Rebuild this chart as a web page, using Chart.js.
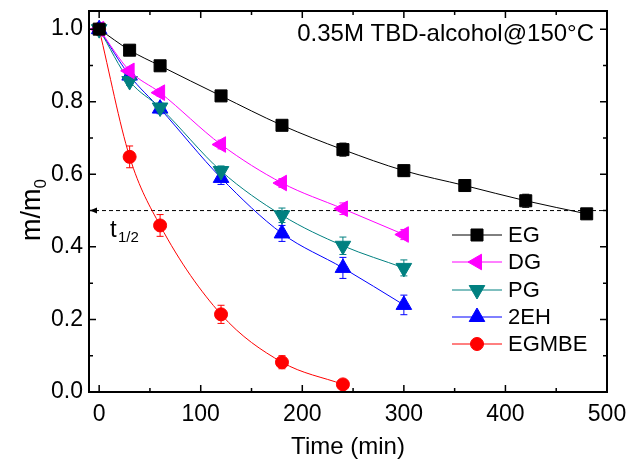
<!DOCTYPE html>
<html>
<head>
<meta charset="utf-8">
<script src="https://cdn.jsdelivr.net/npm/chart.js@4/dist/chart.umd.min.js"></script>
<style>
  html, body { margin: 0; padding: 0; background: #fff; }
  #wrap { width: 632px; height: 468px; }
</style>
</head>
<body>
<div id="wrap"><canvas id="massChart" width="632" height="468"></canvas></div>
<script>
// sampling times (min)
const timesLong = [0, 30, 60, 120, 180, 240, 300, 360, 420, 480];
const timesShort = [0, 30, 60, 120, 180, 240, 300];
const timesEGMBE = [0, 30, 60, 120, 180, 240];

// m/m0 values
const egVals = [1.0, 0.942, 0.899, 0.816, 0.735, 0.668, 0.610, 0.569, 0.527, 0.491];
const dgVals = [1.0, 0.885, 0.825, 0.682, 0.576, 0.505, 0.434];
const pgVals = [1.0, 0.857, 0.784, 0.609, 0.487, 0.403, 0.342];
const ehVals = [1.0, 0.872, 0.781, 0.590, 0.437, 0.342, 0.240];
const egmbeVals = [1.0, 0.648, 0.459, 0.214, 0.082, 0.021];

// error bars (+/-)
const egErr = [0, 0.006, 0.006, 0.01, 0.012, 0.018, 0.015, 0.014, 0.018, 0.014];
const dgErr = [0, 0.01, 0.01, 0.012, 0.012, 0.016, 0.014];
const pgErr = [0, 0.012, 0.012, 0.014, 0.02, 0.024, 0.022];
const ehErr = [0, 0.012, 0.014, 0.018, 0.022, 0.029, 0.027];
const egmbeErr = [0, 0.03, 0.03, 0.025, 0.018, 0.005];

const xTicks = [0, 100, 200, 300, 400, 500];
const yTicks = [0.0, 0.2, 0.4, 0.6, 0.8, 1.0];

const FONT = "'Liberation Sans', Arial, sans-serif";

function pts(xs, ys) {
    return xs.map((x, i) => ({ x: x, y: ys[i] }));
}

function series(label, xs, ys, errs, color, style, rotation, radius) {
    return {
        label: label,
        data: pts(xs, ys),
        errors: errs,
        borderColor: color,
        backgroundColor: color,
        borderWidth: 1,
        pointStyle: style,
        pointRotation: rotation,
        pointRadius: radius,
        pointBorderWidth: 1,
        pointHoverRadius: radius,
        cubicInterpolationMode: 'monotone',
        fill: false
    };
}

// error bars, dashed t1/2 line, frame ticks, labels and legend
const extras = {
    id: 'extras',
    beforeDatasetsDraw(chart) {
        const ctx = chart.ctx;
        const ys = chart.scales.y;
        const area = chart.chartArea;

        // t1/2 dashed line
        const yHalf = ys.getPixelForValue(0.5);
        ctx.save();
        ctx.strokeStyle = '#000';
        ctx.lineWidth = 1;
        ctx.setLineDash([4, 3]);
        ctx.beginPath();
        ctx.moveTo(area.left + 6, yHalf);
        ctx.lineTo(area.right, yHalf);
        ctx.stroke();
        ctx.setLineDash([]);
        ctx.fillStyle = '#000';
        ctx.beginPath();
        ctx.moveTo(area.left + 1, yHalf);
        ctx.lineTo(area.left + 8, yHalf - 3);
        ctx.lineTo(area.left + 8, yHalf + 3);
        ctx.closePath();
        ctx.fill();
        ctx.restore();

        // error bars
        chart.data.datasets.forEach((ds, i) => {
            const meta = chart.getDatasetMeta(i);
            ctx.save();
            ctx.strokeStyle = ds.borderColor;
            ctx.lineWidth = 1;
            meta.data.forEach((p, j) => {
                const e = ds.errors[j];
                if (!e) return;
                const v = ds.data[j].y;
                const y1 = ys.getPixelForValue(v + e);
                const y2 = ys.getPixelForValue(v - e);
                ctx.beginPath();
                ctx.moveTo(p.x, y1); ctx.lineTo(p.x, y2);
                ctx.moveTo(p.x - 3.5, y1); ctx.lineTo(p.x + 3.5, y1);
                ctx.moveTo(p.x - 3.5, y2); ctx.lineTo(p.x + 3.5, y2);
                ctx.stroke();
            });
            ctx.restore();
        });
    },
    afterDraw(chart) {
        const ctx = chart.ctx;
        const xs = chart.scales.x, ys = chart.scales.y;
        const area = chart.chartArea;

        // inward ticks on all four sides
        ctx.save();
        ctx.strokeStyle = '#000';
        ctx.lineWidth = 1.5;
        ctx.beginPath();
        xTicks.forEach((t, i) => {
            const marks = [[t, 7]];
            if (i < xTicks.length - 1) marks.push([t + 50, 4]);
            marks.forEach(([v, len]) => {
                const px = xs.getPixelForValue(v);
                ctx.moveTo(px, area.bottom); ctx.lineTo(px, area.bottom - len);
                ctx.moveTo(px, area.top); ctx.lineTo(px, area.top + len);
            });
        });
        yTicks.forEach((t, i) => {
            const marks = [[t, 7]];
            if (i < yTicks.length - 1) marks.push([t + 0.1, 4]);
            marks.forEach(([v, len]) => {
                const py = ys.getPixelForValue(v);
                ctx.moveTo(area.left, py); ctx.lineTo(area.left + len, py);
                ctx.moveTo(area.right, py); ctx.lineTo(area.right - len, py);
            });
        });
        ctx.stroke();
        ctx.lineWidth = 2;
        ctx.strokeRect(area.left, area.top, area.right - area.left, area.bottom - area.top);
        ctx.restore();

        // annotation and t1/2 label
        ctx.save();
        ctx.fillStyle = '#000';
        ctx.textBaseline = 'alphabetic';
        ctx.textAlign = 'right';
        ctx.font = '24px ' + FONT;
        ctx.fillText('0.35M TBD-alcohol@150\u00B0C', 594, 41);
        ctx.textAlign = 'left';
        ctx.font = '24px ' + FONT;
        ctx.fillText('t', 110, 237);
        ctx.font = '15px ' + FONT;
        ctx.fillText('1/2', 118, 242);

        // y axis title m/m0
        ctx.translate(40, 210);
        ctx.rotate(-Math.PI / 2);
        ctx.font = '27px ' + FONT;
        const main = 'm/m';
        const wMain = ctx.measureText(main).width;
        ctx.font = '17px ' + FONT;
        const wSub = ctx.measureText('0').width;
        const x0 = -(wMain + wSub) / 2;
        ctx.font = '27px ' + FONT;
        ctx.fillText(main, x0, 0);
        ctx.font = '17px ' + FONT;
        ctx.fillText('0', x0 + wMain, 6);
        ctx.restore();

        // legend
        const rows = [235, 262, 290, 317, 344];
        ctx.save();
        chart.data.datasets.forEach((ds, i) => {
            const y = rows[i];
            ctx.strokeStyle = ds.borderColor;
            ctx.fillStyle = ds.backgroundColor;
            ctx.lineWidth = 1;
            ctx.beginPath();
            ctx.moveTo(452, y); ctx.lineTo(502, y);
            ctx.stroke();
            Chart.helpers.drawPoint(ctx, {
                pointStyle: ds.pointStyle,
                rotation: ds.pointRotation,
                radius: ds.pointRadius,
                borderWidth: 1
            }, 477, y);
            ctx.fillStyle = '#000';
            ctx.font = '22px ' + FONT;
            ctx.textAlign = 'left';
            ctx.textBaseline = 'middle';
            ctx.fillText(ds.label, 508, y + 1);
        });
        ctx.restore();
    }
};

const ctx = document.getElementById('massChart').getContext('2d');
const massChart = new Chart(ctx, {
    type: 'line',
    data: {
        datasets: [
            series('EG', timesLong, egVals, egErr, '#000000', 'rect', 0, 8.5),
            series('DG', timesShort, dgVals, dgErr, '#FF00FF', 'triangle', -90, 9),
            series('PG', timesShort, pgVals, pgErr, '#008080', 'triangle', 180, 9),
            series('2EH', timesShort, ehVals, ehErr, '#0000FF', 'triangle', 0, 9),
            series('EGMBE', timesEGMBE, egmbeVals, egmbeErr, '#FF0000', 'circle', 0, 6.5)
        ]
    },
    options: {
        responsive: false,
        animation: false,
        layout: { padding: { left: 0, right: 25, top: 11, bottom: 0 } },
        plugins: {
            legend: { display: false },
            tooltip: { enabled: false }
        },
        scales: {
            x: {
                type: 'linear',
                min: -10,
                max: 500,
                afterBuildTicks: s => { s.ticks = xTicks.map(v => ({ value: v })); },
                afterFit: s => { s.height = 76; s.paddingLeft = 0; s.paddingRight = 0; },
                grid: { display: false, drawTicks: false },
                border: { display: true, color: '#000', width: 2 },
                ticks: {
                    padding: 9,
                    color: '#000',
                    font: { family: FONT, size: 23 }
                },
                title: {
                    display: true,
                    text: 'Time (min)',
                    color: '#000',
                    font: { family: FONT, size: 24 },
                    padding: { top: 0, bottom: 6 }
                }
            },
            y: {
                min: 0,
                max: 1.05,
                afterBuildTicks: s => { s.ticks = yTicks.map(v => ({ value: v })); },
                afterFit: s => { s.width = 89; s.paddingTop = 0; s.paddingBottom = 0; },
                grid: { display: false, drawTicks: false },
                border: { display: true, color: '#000', width: 2 },
                ticks: {
                    padding: 6,
                    color: '#000',
                    font: { family: FONT, size: 23 },
                    callback: v => v.toFixed(1)
                }
            }
        }
    },
    plugins: [extras]
});
</script>
</body>
</html>
